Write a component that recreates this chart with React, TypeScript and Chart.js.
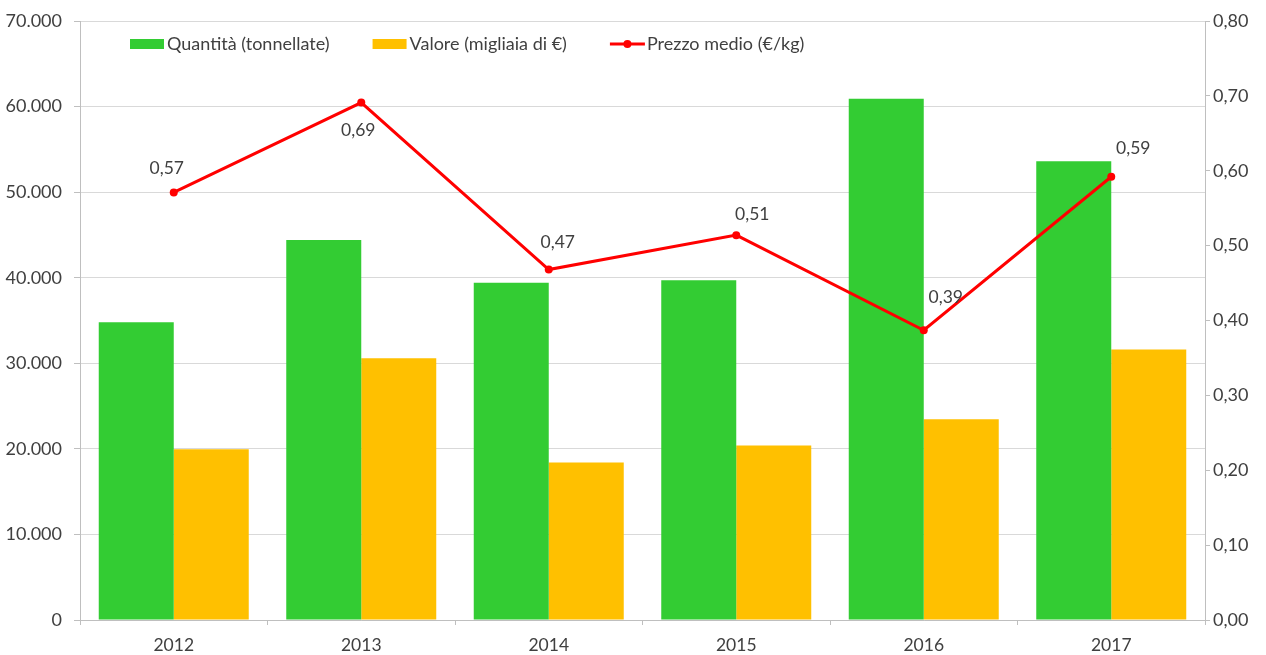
import React, { useEffect, useRef } from "react";
import { Chart, registerables } from "chart.js";

Chart.register(...registerables);

const years = ["2012", "2013", "2014", "2015", "2016", "2017"];
const quantita = [34800, 44400, 39400, 39700, 60900, 53600];
const valore = [19950, 30600, 18400, 20400, 23450, 31600];
const prezzo = [0.571, 0.691, 0.468, 0.514, 0.387, 0.592];
const prezzoLabels = ["0,57", "0,69", "0,47", "0,51", "0,39", "0,59"];

const FONT = "Lato, 'Open Sans', sans-serif";
const TXT = "#404040";

const labelOffsets = [
  [-7, -24],
  [-3, 28],
  [9, -27],
  [16, -21],
  [22, -33],
  [22, -28],
];

const fmtThousands = (v: number) =>
  String(Math.round(v)).replace(/\B(?=(\d{3})+(?!\d))/g, ".");

const pointLabels = {
  id: "pointLabels",
  afterDatasetsDraw(chart: any) {
    const meta = chart.getDatasetMeta(2);
    const ctx = chart.ctx;
    ctx.save();
    ctx.font = `17.5px ${FONT}`;
    ctx.fillStyle = TXT;
    ctx.textAlign = "center";
    ctx.textBaseline = "middle";
    meta.data.forEach((pt: any, i: number) => {
      const [dx, dy] = labelOffsets[i];
      ctx.fillText(prezzoLabels[i], pt.x + dx, pt.y + dy);
    });
    ctx.restore();
  },
};

const customLegend = {
  id: "customLegend",
  afterDraw(chart: any) {
    const ctx = chart.ctx;
    const y = chart.chartArea.top + 23;
    let x = chart.chartArea.left + 50;
    ctx.save();
    ctx.font = `18px ${FONT}`;
    ctx.textBaseline = "middle";
    ctx.textAlign = "left";
    chart.data.datasets.forEach((ds: any, i: number) => {
      if (i < 2) {
        ctx.fillStyle = ds.backgroundColor;
        ctx.fillRect(x, y - 5, 34, 10);
      } else {
        ctx.strokeStyle = ds.borderColor;
        ctx.lineWidth = 3;
        ctx.beginPath();
        ctx.moveTo(x, y);
        ctx.lineTo(x + 35, y);
        ctx.stroke();
        ctx.fillStyle = ds.borderColor;
        ctx.beginPath();
        ctx.arc(x + 17.5, y, 4, 0, Math.PI * 2);
        ctx.fill();
      }
      x += 37;
      ctx.fillStyle = TXT;
      ctx.fillText(ds.label, x, y);
      x += ctx.measureText(ds.label).width + 43;
    });
    ctx.restore();
  },
};

export default function App() {
  const ref = useRef<HTMLCanvasElement | null>(null);
  useEffect(() => {
    if (!ref.current) return;
    const chart = new Chart(ref.current, {
      type: "bar",
      data: {
        labels: years,
        datasets: [
          {
            type: "bar",
            label: "Quantità (tonnellate)",
            data: quantita,
            backgroundColor: "#33cc33",
            yAxisID: "y",
            order: 1,
            categoryPercentage: 0.8,
            barPercentage: 1.0,
          },
          {
            type: "bar",
            label: "Valore (migliaia di €)",
            data: valore,
            backgroundColor: "#ffc000",
            yAxisID: "y",
            order: 1,
            categoryPercentage: 0.8,
            barPercentage: 1.0,
          },
          {
            type: "line",
            label: "Prezzo medio (€/kg)",
            data: prezzo,
            borderColor: "#ff0000",
            backgroundColor: "#ff0000",
            borderWidth: 3,
            pointRadius: 4,
            pointBackgroundColor: "#ff0000",
            pointBorderWidth: 0,
            yAxisID: "y1",
            order: 0,
            tension: 0,
          },
        ] as any,
      },
      options: {
        animation: false,
        responsive: false,
        maintainAspectRatio: false,
        layout: { padding: { top: 21, left: 0, right: 0, bottom: 0 } },
        plugins: {
          legend: { display: false },
          tooltip: { enabled: false },
        },
        scales: {
          x: {
            offset: true,
            grid: {
              display: true,
              drawOnChartArea: false,
              drawTicks: true,
              tickLength: 5,
              offset: true,
              tickColor: "#bfbfbf",
            },
            border: { display: true, color: "#bfbfbf" },
            ticks: {
              color: TXT,
              font: { family: FONT, size: 17.5 },
              padding: 10,
            },
            afterFit(scale: any) {
              scale.height = 35;
              scale.paddingLeft = 0;
              scale.paddingRight = 0;
            },
          },
          y: {
            position: "left",
            min: 0,
            max: 70000,
            grid: {
              color: "#d9d9d9",
              tickLength: 6,
              tickColor: "#bfbfbf",
            },
            border: { display: true, color: "#bfbfbf" },
            ticks: {
              stepSize: 10000,
              color: TXT,
              font: { family: FONT, size: 18 },
              padding: 12,
              callback: (v: any) => fmtThousands(Number(v)),
            },
            afterFit(scale: any) {
              scale.width = 80;
              scale.paddingTop = 0;
              scale.paddingBottom = 0;
            },
          },
          y1: {
            position: "right",
            min: 0,
            max: 0.8,
            grid: {
              drawOnChartArea: false,
              tickLength: 5,
              tickColor: "#bfbfbf",
            },
            border: { display: true, color: "#bfbfbf" },
            ticks: {
              stepSize: 0.1,
              color: TXT,
              font: { family: FONT, size: 18 },
              padding: 3,
              callback: (v: any) => Number(v).toFixed(2).replace(".", ","),
            },
            afterFit(scale: any) {
              scale.width = 61;
              scale.paddingTop = 0;
              scale.paddingBottom = 0;
            },
          },
        },
      } as any,
      plugins: [pointLabels, customLegend],
    });
    return () => chart.destroy();
  }, []);
  return (
    <div style={{ position: "fixed", left: 0, top: 0, width: 1266, height: 655, background: "#fff" }}>
      <canvas ref={ref} width={1266} height={655} style={{ display: "block" }} />
    </div>
  );
}
